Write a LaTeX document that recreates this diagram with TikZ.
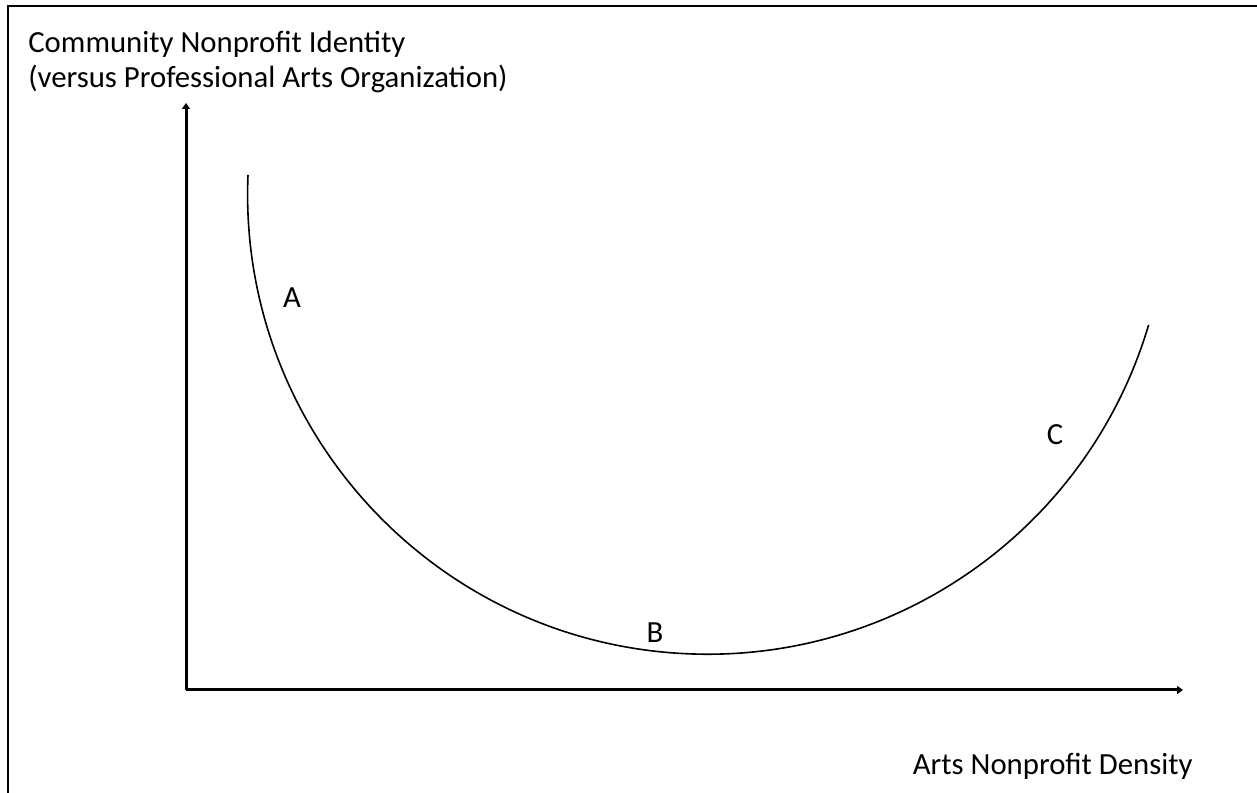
\documentclass[tikz,border=0pt]{standalone}
\usepackage{fontspec}
\setmainfont{Carlito}
\usetikzlibrary{arrows.meta}
\tikzset{
    axis/.style={line width=0.06cm, -{Triangle[length=0.12cm, width=0.16cm]}},
    curvelabel/.style={font=\fontsize{17.5}{21}\selectfont, inner sep=0pt},
    axislabel/.style={font=\fontsize{17.5}{21}\selectfont, inner sep=0pt, anchor=base west}
}
\begin{document}
\begin{tikzpicture}[x=0.02cm, y=0.02cm]
    \useasboundingbox (0,0) rectangle (1257,793);
    % Frame (left and top edge)
    \draw[line width=0.055cm] (8,-2) -- (8,787) -- (1259,787);
    
    % Axes
    \coordinate (origin) at (186,103);
    \coordinate (ytop) at (186,690);
    \coordinate (xend) at (1183,103);
    \draw[axis] (origin) -- (ytop);
    \draw[axis] (origin) -- (xend);
    
    % Axis labels
    \node[axislabel] (ylabel1) at (28,740) {Community Nonprofit Identity};
    \node[axislabel] (ylabel2) at (28,705) {(versus Professional Arts Organization)};
    \node[axislabel, anchor=base east] (xlabel) at (1193,18) {Arts Nonprofit Density};
    
    % U-shaped curve (arc of radius 460 around (708,599))
    \coordinate (start) at (248,618);
    \draw[line width=0.032cm] (start) arc[start angle=177.6, end angle=343.5, radius=460];
    
    % Points on the curve
    \node[curvelabel] (A) at (292,495) {A};
    \node[curvelabel] (B) at (655,160) {B};
    \node[curvelabel] (C) at (1055,358) {C};
\end{tikzpicture}
\end{document}
